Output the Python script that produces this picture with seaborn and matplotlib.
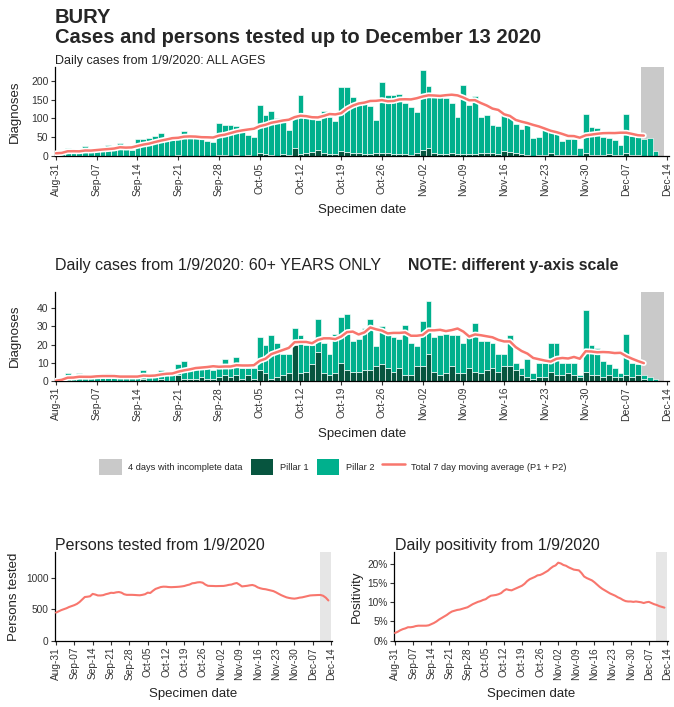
import numpy as np
import pandas as pd
import matplotlib
matplotlib.use("Agg")
import matplotlib.pyplot as plt
import matplotlib.patheffects as pe
from matplotlib.patches import Patch
from matplotlib.lines import Line2D
from matplotlib.ticker import PercentFormatter
import seaborn as sns

# ---------------- data ----------------
dates = pd.date_range("2020-08-31", "2020-12-13", freq="D")
tick_days = [0, 7, 14, 21, 28, 35, 42, 49, 56, 63, 70, 77, 84, 91, 98, 105]
tick_labels = ["Aug-31", "Sep-07", "Sep-14", "Sep-21", "Sep-28", "Oct-05", "Oct-12",
               "Oct-19", "Oct-26", "Nov-02", "Nov-09", "Nov-16", "Nov-23", "Nov-30",
               "Dec-07", "Dec-14"]

all_total = [8,
             10, 22, 14, 12, 26, 14,
             18, 20, 30, 24, 35, 20, 18,
             45, 45, 48, 53, 61, 42, 42,
             52, 66, 52, 50, 50, 40, 38,
             87, 83, 82, 80, 70, 56, 52,
             135, 108, 120, 100, 92, 70, 100,
             161, 100, 100, 97, 120, 104, 93,
             184, 183, 157, 136, 137, 134, 96,
             197, 162, 162, 165, 140, 131, 118,
             228, 185, 158, 158, 153, 140, 105,
             188, 135, 160, 105, 108, 82, 80,
             108, 104, 86, 73, 82, 48, 51,
             69, 64, 60, 40, 45, 45, 22,
             113, 77, 75, 51, 48, 44, 29,
             113, 54, 51, 45, 48, 13, 1]
all_pillar1 = [0,
               1, 0, 1, 0, 1, 0,
               1, 0, 1, 0, 1, 0, 1,
               1, 1, 0, 1, 1, 0, 1,
               3, 1, 1, 1, 2, 1, 1,
               3, 3, 2, 3, 1, 3, 1,
               8, 5, 3, 2, 5, 4, 22,
               5, 10, 12, 18, 8, 6, 5,
               15, 12, 8, 8, 7, 6, 8,
               10, 8, 6, 7, 5, 4, 9,
               18, 22, 8, 6, 6, 8, 6,
               6, 7, 5, 8, 9, 8, 6,
               15, 12, 8, 5, 4, 2, 3,
               3, 8, 4, 4, 4, 3, 2,
               8, 4, 4, 3, 6, 4, 3,
               8, 4, 4, 2, 1, 0, 0]

old_total = [0,
             1, 4, 2, 4, 2, 2,
             2, 2, 4, 2, 2, 2, 2,
             2, 6, 3, 3, 6, 5, 3,
             9, 11, 7, 8, 8, 7, 6,
             7, 12, 7, 13, 7, 7, 7,
             24, 20, 25, 21, 15, 15, 29,
             25, 20, 20, 34, 21, 15, 26,
             35, 37, 22, 23, 29, 34, 19,
             30, 26, 24, 23, 31, 21, 19,
             33, 44, 24, 25, 26, 25, 25,
             21, 25, 32, 22, 22, 21, 15,
             15, 25, 10, 7, 12, 4, 10,
             10, 21, 21, 10, 10, 10, 3,
             39, 20, 18, 11, 9, 7, 4,
             26, 10, 9, 3, 2, 1, 0]
old_pillar1 = [0,
               0, 0, 0, 0, 0, 0,
               0, 0, 0, 0, 0, 0, 0,
               0, 1, 0, 0, 1, 0, 0,
               3, 1, 1, 1, 2, 1, 1,
               2, 3, 2, 3, 1, 3, 1,
               6, 4, 1, 2, 3, 4, 20,
               4, 5, 9, 16, 4, 3, 4,
               10, 6, 5, 5, 6, 6, 8,
               9, 7, 5, 7, 3, 3, 8,
               8, 15, 5, 3, 4, 8, 4,
               4, 7, 5, 4, 6, 7, 5,
               8, 8, 6, 3, 2, 1, 2,
               2, 5, 3, 3, 4, 3, 2,
               5, 3, 3, 2, 3, 2, 2,
               3, 2, 3, 1, 0, 0, 0]

persons_tested = [450, 470, 490, 505, 520, 540, 555,
                  570, 590, 620, 660, 700, 705, 712,
                  750, 740, 725, 725, 730, 745, 755,
                  768, 765, 775, 780, 770, 745, 735,
                  735, 735, 733, 730, 728, 735, 745,
                  770, 765, 800, 830, 845, 860, 866,
                  865, 860, 858, 860, 862, 865, 870,
                  877, 890, 900, 920, 925, 935, 938,
                  930, 900, 880, 878, 877, 875, 876,
                  877, 878, 885, 895, 900, 915, 925,
                  900, 870, 875, 880, 888, 893, 880,
                  855, 840, 830, 825, 815, 805, 795,
                  775, 752, 730, 712, 695, 685, 678,
                  674, 680, 690, 695, 705, 715, 725,
                  728, 730, 732, 733, 720, 690, 645]

positivity = [2.0, 2.3, 2.7, 3.0, 3.2, 3.5, 3.5,
              3.6, 3.8, 3.9, 3.9, 3.9, 3.9, 4.0,
              4.3, 4.6, 5.0, 5.5, 5.9, 6.3, 6.7,
              7.2, 7.6, 7.8, 8.0, 8.1, 8.3, 8.5,
              8.7, 9.1, 9.5, 9.8, 10.1, 10.3, 10.6,
              10.8, 11.3, 11.7, 11.8, 11.9, 12.1, 12.4,
              13.0, 13.4, 13.2, 13.1, 13.4, 13.7, 14.0,
              14.3, 14.8, 15.5, 16.0, 16.3, 16.6, 17.0,
              17.1, 17.4, 17.8, 18.2, 18.8, 19.3, 19.6,
              20.3, 20.1, 19.7, 19.5, 19.1, 18.8, 18.5,
              18.4, 18.3, 17.6, 16.7, 16.3, 16.0, 15.7,
              15.2, 14.6, 14.0, 13.5, 13.1, 12.7, 12.3,
              12.0, 11.7, 11.3, 11.0, 10.6, 10.3, 10.2,
              10.2, 10.1, 10.2, 10.1, 10.0, 9.8, 10.0,
              10.1, 9.8, 9.5, 9.3, 9.0, 8.8, 8.6]

# ---------------- style ----------------
TEAL = "#00B08D"
DARK = "#07553F"
RED = "#F8766D"
GRAY = "#C9C9C9"
LIGHTGRAY = "#E6E6E6"
TXT = "#333333"

sns.set_theme(style="ticks")
plt.rcParams['font.family'] = ['Liberation Sans', 'DejaVu Sans']

day = np.asarray((dates - dates[0]).days)
last_complete = 101  # moving average shown up to this day

fig = plt.figure(figsize=(6.74, 7.07), dpi=100)
ax1 = fig.add_axes([0.0813, 0.7789, 0.9119, 0.1263])
ax2 = fig.add_axes([0.0813, 0.4615, 0.9119, 0.1259])
ax3 = fig.add_axes([0.0816, 0.0938, 0.411, 0.125])
ax4 = fig.add_axes([0.5846, 0.0938, 0.4065, 0.125])


def style_axis(ax, xlim, ylabel, ylab_x, tick_size):
    ax.set_xlim(*xlim)
    ax.set_xticks(tick_days)
    ax.set_xticklabels(tick_labels, rotation=90, ha="center", va="top")
    ax.tick_params(axis="both", length=3, width=0.8, color=TXT, labelcolor=TXT,
                   labelsize=tick_size, pad=1.5)
    for s in ["top", "right"]:
        ax.spines[s].set_visible(False)
    for s in ["left", "bottom"]:
        ax.spines[s].set_color("black")
        ax.spines[s].set_linewidth(0.9)
    ax.set_xlabel("Specimen date", fontsize=9.5, color="#222222")
    ax.xaxis.set_label_coords(0.5, -0.535)
    ax.set_ylabel(ylabel, fontsize=9.5, color="#222222")
    ax.yaxis.set_label_coords(ylab_x, 0.5)


def case_panel(ax, total, pillar1, ymax, yticks):
    total = np.asarray(total)
    pillar1 = np.asarray(pillar1)
    wide = pd.DataFrame({"day": day, "Pillar 1": pillar1, "Pillar 2": total - pillar1})
    long = wide.melt(id_vars="day", var_name="pillar", value_name="n")
    ax.axvspan(100.5, 104.5, color=GRAY, lw=0, zorder=0)
    sns.histplot(data=long, x="day", weights="n", hue="pillar",
                 hue_order=["Pillar 2", "Pillar 1"], multiple="stack",
                 discrete=True, shrink=1, palette={"Pillar 1": DARK, "Pillar 2": TEAL},
                 edgecolor="white", linewidth=0.45, alpha=1, legend=False, ax=ax,
                 zorder=2)
    ma = pd.Series(total, dtype=float).rolling(7, min_periods=1).mean()
    mdf = pd.DataFrame({"day": day, "ma": ma})
    mdf = mdf[mdf["day"] <= last_complete]
    sns.lineplot(data=mdf, x="day", y="ma", color=RED, lw=1.8, ax=ax, zorder=3,
                 path_effects=[pe.Stroke(linewidth=4.2, foreground="white"), pe.Normal()])
    ax.set_ylim(0, ymax)
    ax.set_yticks(yticks)


case_panel(ax1, all_total, all_pillar1, 236, [0, 50, 100, 150, 200])
style_axis(ax1, (-0.2, 105.4), "Diagnoses", -0.055, 7.5)
case_panel(ax2, old_total, old_pillar1, 49.2, [0, 10, 20, 30, 40])
style_axis(ax2, (-0.2, 105.4), "Diagnoses", -0.055, 7.5)

# persons tested
ax3.axvspan(100.8, 105.0, color=LIGHTGRAY, lw=0, zorder=0)
sns.lineplot(x=day, y=persons_tested, color=RED, lw=1.5, ax=ax3, zorder=3)
ax3.set_ylim(0, 1417)
ax3.set_yticks([0, 500, 1000])
style_axis(ax3, (-0.38, 105.38), "Persons tested", -0.126, 7.3)

# positivity
ax4.axvspan(100.8, 105.0, color=LIGHTGRAY, lw=0, zorder=0)
sns.lineplot(x=day, y=positivity, color=RED, lw=1.5, ax=ax4, zorder=3)
ax4.set_ylim(0, 23)
ax4.set_yticks([0, 5, 10, 15, 20])
ax4.yaxis.set_major_formatter(PercentFormatter(xmax=100, decimals=0))
style_axis(ax4, (-0.38, 105.38), "Positivity", -0.113, 7.3)

# ---------------- titles ----------------
fig.text(0.0816, 1 - 23.3 / 707, "BURY", fontsize=14.5, fontweight="bold", va="baseline")
fig.text(0.0816, 1 - 43.3 / 707, "Cases and persons tested up to December 13 2020",
         fontsize=14.5, fontweight="bold", va="baseline")
fig.text(0.0816, 1 - 64.3 / 707, "Daily cases from 1/9/2020: ALL AGES",
         fontsize=9, va="baseline", color="#222222")
fig.text(0.0816, 1 - 270 / 707, "Daily cases from 1/9/2020: 60+ YEARS ONLY",
         fontsize=11.5, va="baseline", color="#222222")
fig.text(408 / 674, 1 - 270 / 707, "NOTE: different y-axis scale",
         fontsize=11.4, fontweight="bold", va="baseline")
fig.text(0.0816, 1 - 550 / 707, "Persons tested from 1/9/2020",
         fontsize=11.5, va="baseline", color="#222222")
fig.text(395 / 674, 1 - 550 / 707, "Daily positivity from 1/9/2020",
         fontsize=11.5, va="baseline", color="#222222")

# ---------------- legend ----------------
handles = [Patch(facecolor=GRAY, edgecolor="none"),
           Patch(facecolor=DARK, edgecolor="none"),
           Patch(facecolor=TEAL, edgecolor="none"),
           Line2D([0], [0], color=RED, lw=1.8)]
labels = ["4 days with incomplete data", "Pillar 1", "Pillar 2",
          "Total 7 day moving average (P1 + P2)"]
fig.legend(handles, labels, loc="center", bbox_to_anchor=(0.494, 1 - 467 / 707),
           ncol=4, frameon=False, fontsize=6.7, handlelength=2.4, handleheight=2.4,
           handletextpad=0.7, columnspacing=0.9)

fig.savefig("out.png", dpi=100)
